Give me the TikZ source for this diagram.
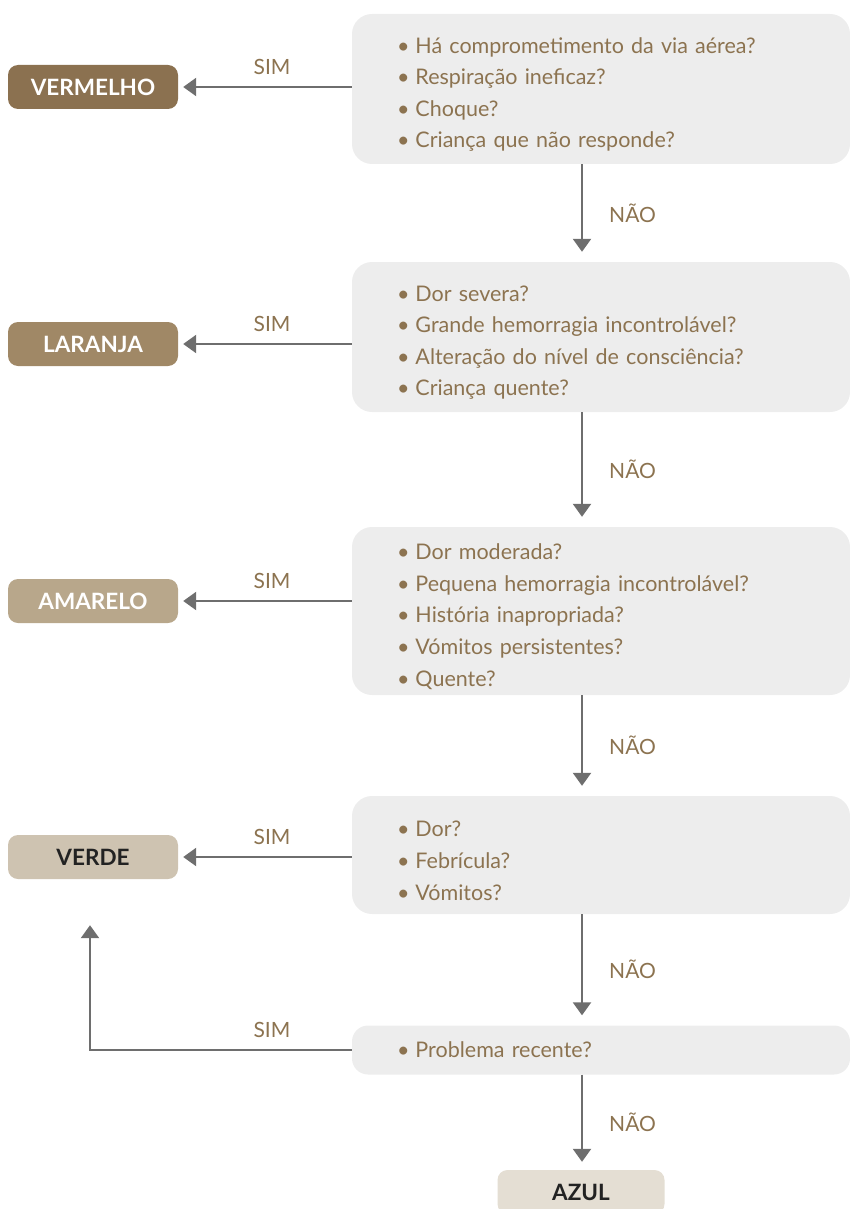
\documentclass[tikz,border=0pt]{standalone}
\usepackage{fontspec}
\setmainfont{Lato}
\usetikzlibrary{arrows.meta,calc}
\definecolor{txtbrown}{HTML}{8C7350}
\definecolor{qgrey}{HTML}{EDEDED}
\definecolor{arrgrey}{HTML}{6E6E6E}
\definecolor{cverm}{HTML}{8B7150}
\definecolor{clar}{HTML}{A08866}
\definecolor{cama}{HTML}{B8A78B}
\definecolor{cver}{HTML}{CEC3B1}
\definecolor{cazul}{HTML}{E4DED3}
\definecolor{dark}{HTML}{222222}
\tikzset{
  qbox/.style={fill=qgrey, rounded corners=20pt, minimum width=498pt, text width=408pt, align=left, inner sep=0pt, text=txtbrown, font=\fontsize{21.5}{31.6}\selectfont},
  cbox/.style={rounded corners=10pt, minimum width=170pt, minimum height=44pt, inner sep=0pt, font=\fontsize{22.5}{26}\selectfont\bfseries},
  arr/.style={draw=arrgrey, line width=2.4pt, -{Triangle[width=18pt,length=13pt]}},
  lbl/.style={text=txtbrown, font=\fontsize{21}{24}\selectfont, inner sep=0pt},
}
\newcommand{\itm}{\textbullet\hspace{6pt}}
\newcommand{\topgap}{\rule{0pt}{27pt}}
\begin{document}
\begin{tikzpicture}[x=1pt,y=-1pt]
\useasboundingbox (0,0) rectangle (850,1209);
% question boxes
\node[qbox, minimum height=150pt] (q1) at (601,89) {\topgap\itm Há comprometimento da via aérea?\\\itm Respiração ineficaz?\\\itm Choque?\\\itm Criança que não responde?};
\node[qbox, minimum height=150pt] (q2) at (601,337) {\topgap\itm Dor severa?\\\itm Grande hemorragia incontrolável?\\\itm Alteração do nível de consciência?\\\itm Criança quente?};
\node[qbox, minimum height=168pt] (q3) at (601,611) {\topgap\itm Dor moderada?\\\itm Pequena hemorragia incontrolável?\\\itm História inapropriada?\\\itm Vómitos persistentes?\\\itm Quente?};
\node[qbox, minimum height=118pt] (q4) at (601,855) {\topgap\itm Dor?\\\itm Febrícula?\\\itm Vómitos?};
\node[qbox, minimum height=49pt, rounded corners=16pt] (q5) at (601,1050) {\itm Problema recente?};
% category boxes
\node[cbox, fill=cverm, text=white] (verm) at (93,87) {VERMELHO};
\node[cbox, fill=clar, text=white] (lar) at (93,344) {LARANJA};
\node[cbox, fill=cama, text=white] (ama) at (93,601) {AMARELO};
\node[cbox, fill=cver, text=dark] (verde) at (93,857) {VERDE};
\node[cbox, fill=cazul, text=dark, minimum width=167pt] (azul) at (581,1192) {AZUL};
% SIM arrows
\draw[arr, shorten >=5pt] (q1.west |- verm.east) -- node[lbl, midway, above=11pt, xshift=7pt] (s1) {SIM} (verm.east);
\draw[arr, shorten >=5pt] (q2.west |- lar.east) -- node[lbl, midway, above=11pt, xshift=7pt] (s2) {SIM} (lar.east);
\draw[arr, shorten >=5pt] (q3.west |- ama.east) -- node[lbl, midway, above=11pt, xshift=7pt] (s3) {SIM} (ama.east);
\draw[arr, shorten >=5pt] (q4.west |- verde.east) -- node[lbl, midway, above=11pt, xshift=7pt] (s4) {SIM} (verde.east);
\coordinate (corner) at ($(q5.west -| verde.south)+(-3,0)$);
\draw[arr, shorten >=46pt] (q5.west) -- node[lbl, midway, above=11pt, xshift=51pt] (s5) {SIM} (corner) -- ($(verde.south)+(-3,0)$);
% NAO arrows
\draw[arr, shorten >=10pt] ([xshift=-19pt]q1.south) -- node[lbl, midway, right=26pt] (n1) {NÃO} ([xshift=-19pt]q2.north);
\draw[arr, shorten >=10pt] ([xshift=-19pt]q2.south) -- node[lbl, midway, right=26pt] (n2) {NÃO} ([xshift=-19pt]q3.north);
\draw[arr, shorten >=10pt] ([xshift=-19pt]q3.south) -- node[lbl, midway, right=26pt] (n3) {NÃO} ([xshift=-19pt]q4.north);
\draw[arr, shorten >=10pt] ([xshift=-19pt]q4.south) -- node[lbl, midway, right=26pt] (n4) {NÃO} ([xshift=-19pt]q5.north);
\draw[arr, shorten >=8pt] ([xshift=-19pt]q5.south) -- node[lbl, midway, right=26pt] (n5) {NÃO} ([xshift=1pt]azul.north);
\end{tikzpicture}
\end{document}
